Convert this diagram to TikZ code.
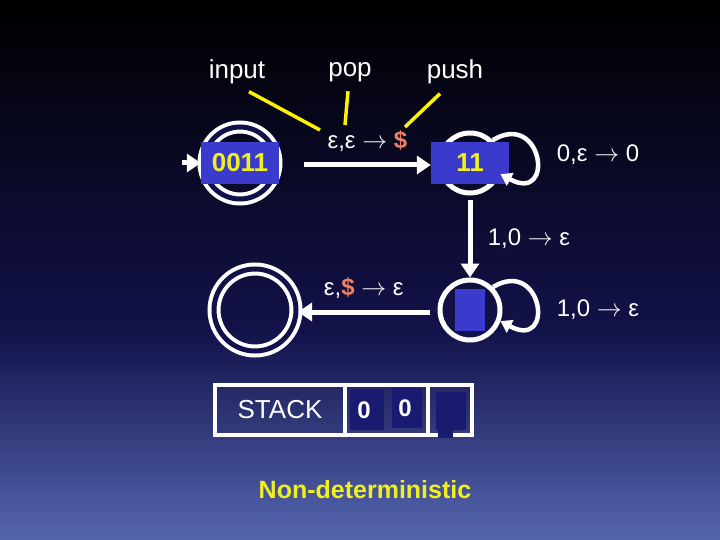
\documentclass[tikz,border=0pt]{standalone}
\usepackage{fontspec}
\setmainfont{Liberation Sans}
\usetikzlibrary{arrows.meta}
\usetikzlibrary{positioning}
\definecolor{boxblue}{HTML}{3A3ACC}
\definecolor{darkcell}{HTML}{1A1A70}
\definecolor{dollar}{HTML}{F08060}
\definecolor{bgtop}{HTML}{000000}
\definecolor{bgmid}{HTML}{12124A}
\definecolor{bgbot}{HTML}{5566B0}
\definecolor{txtyellow}{HTML}{F0F020}
\begin{document}
\begin{tikzpicture}[
		x = 1pt, y = -1pt,
		state/.style = {circle, draw = white, line width = 5pt, minimum size = 60pt, inner sep = 0},
		accept/.style = {state, line width = 4pt, double = bgmid, double distance = 5pt, minimum size = 72pt},
		tape/.style = {fill = boxblue, text = txtyellow, font = \bfseries\fontsize{26}{26}\selectfont,
			inner sep = 0, minimum height = 42pt},
		trans/.style = {white, line width = 5pt, -{Triangle[length = 14pt, width = 18pt]}},
		lbl/.style = {text = white, font = \fontsize{24}{24}\selectfont},
		hint/.style = {yellow, line width = 3.5pt},
	]
	% background
	\shade[top color = bgtop, bottom color = bgmid] (0,0) rectangle (720,330);
	\shade[top color = bgmid, bottom color = bgbot] (0,330) rectangle (720,540);
	\useasboundingbox (0,0) rectangle (720,540);

	% headings
	\node[lbl, font = \fontsize{26}{26}\selectfont] (input) at (237,72) {input};
	\node[lbl, font = \fontsize{26}{26}\selectfont] (pop) at (350,72) {pop};
	\node[lbl, font = \fontsize{26}{26}\selectfont] (push) at (455,72) {push};

	% states
	\node[accept] (q1) at (240,163) {};
	\node[state] (q2) at (470,163) {};
	\node[state] (q3) at (470,310) {};
	\node[accept, minimum size = 82pt] (q4) at (255,310) {};
	\coordinate (start) at (182,163);

	% tape contents
	\node[tape, minimum width = 78pt] (in1) at (q1) {0011};
	\node[tape, minimum width = 78pt] (in2) at (q2) {11};
	\node[tape, minimum width = 30pt] (in3) at (q3) {};

	% transitions
	\draw[trans] (start) -- (in1.west);
	\draw[trans] (q1.east) ++(26,2) coordinate (a1) (a1) -- (in2.west |- a1)
		node[lbl, midway, above = 8pt] {ε,ε \(\rightarrow\) \textcolor{dollar}{\bfseries\$}};
	\draw[white, line width = 4.5pt, -{Triangle[length = 11pt, width = 14pt]}]
		(q2.45) .. controls +(50,-30) and +(55,30) .. (q2.-20);
	\node[lbl] (l2) at (598,155) {0,ε \(\rightarrow\) 0};
	\draw[trans] (q2.south) ++(0,5) coordinate (a2) (a2) -- (q3.north)
		node[lbl, midway, right = 12pt] {1,0 \(\rightarrow\) ε};
	\draw[white, line width = 4.5pt, -{Triangle[length = 11pt, width = 14pt]}]
		(q3.45) .. controls +(50,-30) and +(55,30) .. (q3.-20);
	\node[lbl] (l3) at (598,310) {1,0 \(\rightarrow\) ε};
	\draw[trans] (q3.west) ++(-8,2) coordinate (a3) (a3) -- (q4.east |- a3)
		node[lbl, midway, above = 8pt] {ε,\textcolor{dollar}{\bfseries\$} \(\rightarrow\) ε};

	% hints
	\draw[hint] (input.south) ++(12,4) -- (320,130);
	\draw[hint] (pop.south) ++(-2,6) -- (345,125);
	\draw[hint] (push.south) ++(-15,6) -- (405,127);

	% stack
	\draw[white, line width = 3.5pt] (215,385) rectangle (472,435);
	\draw[white, line width = 3.5pt] (345,385) -- (345,435) (428,385) -- (428,435);
	\node[lbl, font = \fontsize{26}{26}\selectfont] (stk) at (280,410) {STACK};
	\fill[darkcell] (350,390) rectangle (384,430) (392,388) rectangle (422,428) (436,392) rectangle (466,430);
	\fill[darkcell] (438,405) rectangle (453,438);
	\node[lbl, font = \bfseries\fontsize{24}{24}\selectfont] (s1) at (364,410) {0};
	\node[lbl, font = \bfseries\fontsize{24}{24}\selectfont] (s2) at (405,408) {0};

	\node[text = txtyellow, font = \bfseries\fontsize{25}{25}\selectfont] (nd) at (365,490) {Non-deterministic};
\end{tikzpicture}
\end{document}
